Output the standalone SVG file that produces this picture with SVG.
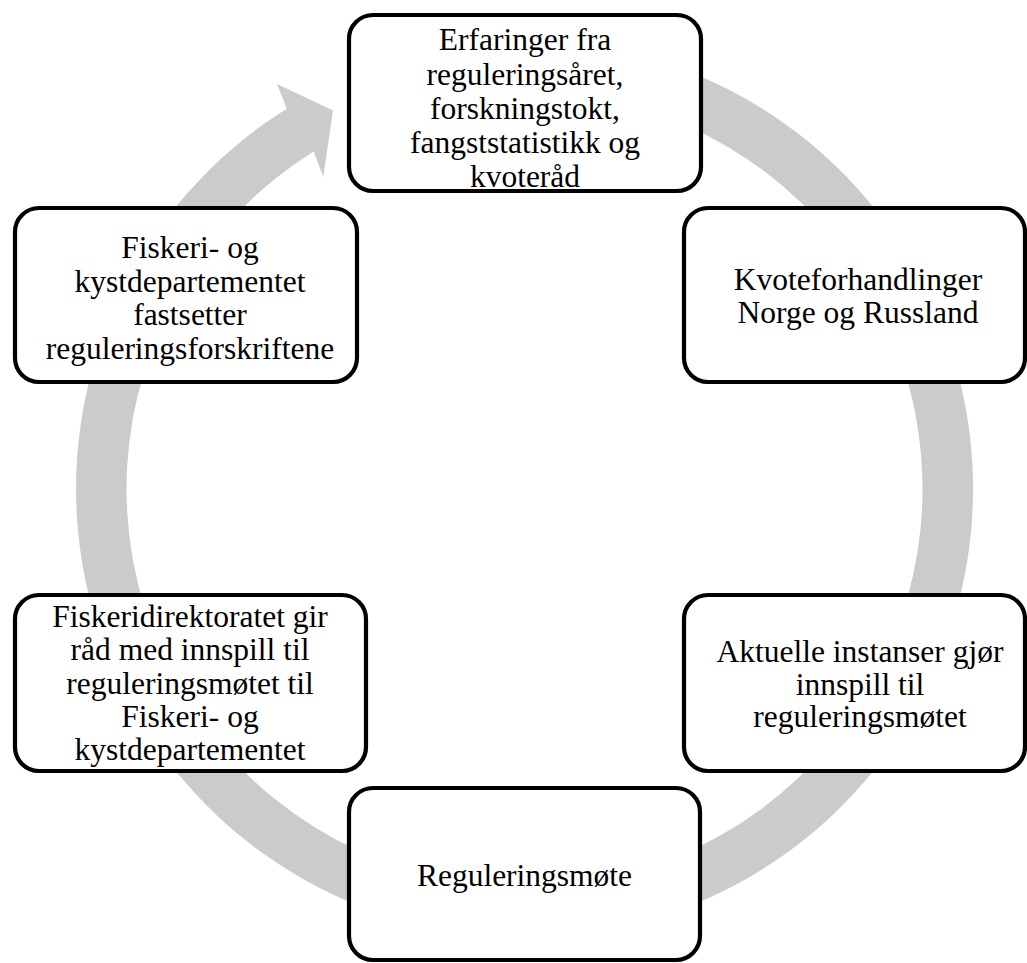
<svg xmlns="http://www.w3.org/2000/svg" width="1027" height="963" viewBox="0 0 1027 963">
<style>
.box{fill:#ffffff;stroke:#000000;stroke-width:4.2}
.t{font-family:"Liberation Serif","Times New Roman",serif;font-size:31.5px;fill:#000000;text-anchor:middle}
.ring{fill:#cbcbcb;stroke:none}
</style>
<rect width="1027" height="963" fill="#ffffff"/>
<g id="connectors">
<path class="ring" d="M524.5,40.5 A448.5,448.5 0 1 1 286.8,108.7 L277,84 L333,110.5 L323.3,176.7 L313.6,151.5 A398,398 0 1 0 524.5,91 Z"/>
</g>
<g id="node1">
<rect class="box" x="349" y="15" width="352" height="176" rx="24"/>
<text class="t" x="525" y="50">Erfaringer fra</text>
<text class="t" x="525" y="84.5">reguleringsåret,</text>
<text class="t" x="525" y="118.5">forskningstokt,</text>
<text class="t" x="525" y="152.5">fangststatistikk og</text>
<text class="t" x="525" y="187">kvoteråd</text>
</g>
<g id="node2">
<rect class="box" x="684" y="208" width="341" height="174" rx="24"/>
<text class="t" x="858" y="290">Kvoteforhandlinger</text>
<text class="t" x="858" y="322.5">Norge og Russland</text>
</g>
<g id="node3">
<rect class="box" x="15" y="208" width="342" height="174" rx="24"/>
<text class="t" x="190" y="258">Fiskeri- og</text>
<text class="t" x="190" y="291.5">kystdepartementet</text>
<text class="t" x="190" y="325">fastsetter</text>
<text class="t" x="190" y="358.5">reguleringsforskriftene</text>
</g>
<g id="node4">
<rect class="box" x="15" y="595" width="351" height="176" rx="24"/>
<text class="t" x="190" y="627">Fiskeridirektoratet gir</text>
<text class="t" x="190" y="660.3">råd med innspill til</text>
<text class="t" x="190" y="693.6">reguleringsmøtet til</text>
<text class="t" x="190" y="727">Fiskeri- og</text>
<text class="t" x="190" y="760.3">kystdepartementet</text>
</g>
<g id="node5">
<rect class="box" x="684" y="595" width="341" height="176" rx="24"/>
<text class="t" x="860" y="661.7">Aktuelle instanser gjør</text>
<text class="t" x="860" y="694.5">innspill til</text>
<text class="t" x="860" y="727">reguleringsmøtet</text>
</g>
<g id="node6">
<rect class="box" x="349" y="788" width="351" height="172" rx="24"/>
<text class="t" x="524.5" y="886">Reguleringsmøte</text>
</g>
</svg>
